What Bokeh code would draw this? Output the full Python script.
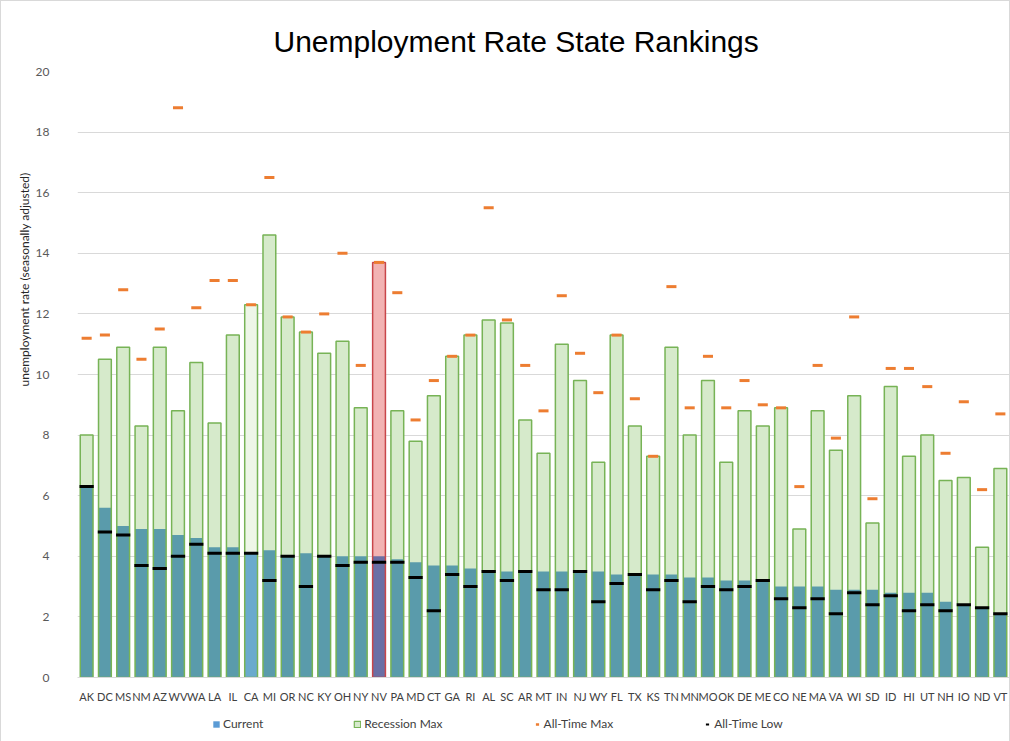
from bokeh.plotting import figure
from bokeh.layouts import column
from bokeh.models import (ColumnDataSource, Legend, LegendItem, FactorRange,
                          Range1d, FixedTicker, Title)
from bokeh.embed import file_html
from bokeh.resources import INLINE

states = ["AK", "DC", "MS", "NM", "AZ", "WV", "WA", "LA", "IL", "CA", "MI", "OR",
          "NC", "KY", "OH", "NY", "NV", "PA", "MD", "CT", "GA", "RI", "AL", "SC",
          "AR", "MT", "IN", "NJ", "WY", "FL", "TX", "KS", "TN", "MN", "MO", "OK",
          "DE", "ME", "CO", "NE", "MA", "VA", "WI", "SD", "ID", "HI", "UT", "NH",
          "IO", "ND", "VT"]
current = [6.3, 5.6, 5.0, 4.9, 4.9, 4.7, 4.6, 4.3, 4.3, 4.1, 4.2, 4.0,
           4.1, 4.0, 4.0, 4.0, 4.0, 3.9, 3.8, 3.7, 3.7, 3.6, 3.5, 3.5,
           3.5, 3.5, 3.5, 3.5, 3.5, 3.4, 3.4, 3.4, 3.4, 3.3, 3.3, 3.2,
           3.2, 3.2, 3.0, 3.0, 3.0, 2.9, 2.9, 2.9, 2.8, 2.8, 2.8, 2.5,
           2.4, 2.3, 2.1]
recession_max = [8.0, 10.5, 10.9, 8.3, 10.9, 8.8, 10.4, 8.4, 11.3, 12.3, 14.6, 11.9,
                 11.4, 10.7, 11.1, 8.9, 13.7, 8.8, 7.8, 9.3, 10.6, 11.3, 11.8, 11.7,
                 8.5, 7.4, 11.0, 9.8, 7.1, 11.3, 8.3, 7.3, 10.9, 8.0, 9.8, 7.1,
                 8.8, 8.3, 8.9, 4.9, 8.8, 7.5, 9.3, 5.1, 9.6, 7.3, 8.0, 6.5,
                 6.6, 4.3, 6.9]
all_time_max = [11.2, 11.3, 12.8, 10.5, 11.5, 18.8, 12.2, 13.1, 13.1, 12.3, 16.5, 11.9,
                11.4, 12.0, 14.0, 10.3, 13.7, 12.7, 8.5, 9.8, 10.6, 11.3, 15.5, 11.8,
                10.3, 8.8, 12.6, 10.7, 9.4, 11.3, 9.2, 7.3, 12.9, 8.9, 10.6, 8.9,
                9.8, 9.0, 8.9, 6.3, 10.3, 7.9, 11.9, 5.9, 10.2, 10.2, 9.6, 7.4,
                9.1, 6.2, 8.7]
all_time_low = [6.3, 4.8, 4.7, 3.7, 3.6, 4.0, 4.4, 4.1, 4.1, 4.1, 3.2, 4.0,
                3.0, 4.0, 3.7, 3.8, 3.8, 3.8, 3.3, 2.2, 3.4, 3.0, 3.5, 3.2,
                3.5, 2.9, 2.9, 3.5, 2.5, 3.1, 3.4, 2.9, 3.2, 2.5, 3.0, 2.9,
                3.0, 3.2, 2.6, 2.3, 2.6, 2.1, 2.8, 2.4, 2.7, 2.2, 2.4, 2.2,
                2.4, 2.3, 2.1]
y_ticks = [0, 2, 4, 6, 8, 10, 12, 14, 16, 18, 20]
legend_labels = ["Current", "Recession Max", "All-Time Max", "All-Time Low"]
highlight = "NV"
lighter = "CA"

TEAL = "#5a9bab"
GREEN_FILL = "#d6eacb"
GREEN_LINE = "#77b356"

cur_fill = ["#6a6fa5" if s == highlight else ("#6aaacd" if s == lighter else TEAL) for s in states]
rec_fill = ["#f2b3b3" if s == highlight else ("#eef6e8" if s == lighter else GREEN_FILL) for s in states]
rec_line = ["#c8464a" if s == highlight else GREEN_LINE for s in states]

src = ColumnDataSource(dict(state=states, cur=current, rec=recession_max,
                            amax=all_time_max, alow=all_time_low,
                            cur_fill=cur_fill, rec_fill=rec_fill, rec_line=rec_line))

p = figure(x_range=FactorRange(*states), y_range=Range1d(0, 20),
           frame_width=932, frame_height=606, output_backend="svg", toolbar_location=None,
           min_border_left=76, min_border_right=0, min_border_top=70,
           min_border_bottom=0)
p.outline_line_color = None
p.background_fill_color = "white"
p.border_fill_color = "white"

p.title.text = "Unemployment Rate State Rankings"
p.title.align = "left"
p.title.text_font = "Liberation Sans"
p.title.text_font_size = "30px"
p.title.text_font_style = "normal"
p.title.text_color = "#000000"
p.title.standoff = 27
p.title.offset = 196

p.vbar(x="state", top="rec", width=0.7, fill_color="rec_fill", line_color=None, source=src)
p.vbar(x="state", top="cur", width=0.7, fill_color="cur_fill", line_color=None, source=src)
p.vbar(x="state", top="rec", width=0.7, fill_color=None, line_color="rec_line",
       line_width=1.5, source=src)
p.rect(x="state", y="amax", width=0.55, height=3, height_units="screen",
       fill_color="#ed7d31", line_color=None, source=src)
p.rect(x="state", y="alow", width=0.78, height=3, height_units="screen",
       fill_color="#000000", line_color=None, source=src)

p.xgrid.grid_line_color = None
p.ygrid.grid_line_color = "#d9d9d9"
p.ygrid.grid_line_width = 1.2

p.yaxis.ticker = FixedTicker(ticks=y_ticks)
p.yaxis.axis_line_color = None
p.yaxis.major_tick_line_color = None
p.yaxis.minor_tick_line_color = None
p.yaxis.major_label_text_font = "Lato"
p.yaxis.major_label_text_font_size = "12px"
p.yaxis.major_label_text_color = "#595959"
p.yaxis.major_label_standoff = 22

ylab = Title(text="unemployment rate (seasonally adjusted)", align="left",
             text_font="Lato", text_font_size="12px", text_font_style="normal",
             text_color="#262626", offset=291, standoff=1)
p.add_layout(ylab, "left")

p.xaxis.axis_line_color = "#d9d9d9"
p.xaxis.major_tick_line_color = None
p.xaxis.minor_tick_line_color = None
p.xaxis.major_label_text_font = "Lato"
p.xaxis.major_label_text_font_size = "11px"
p.xaxis.major_label_text_color = "#404040"
p.xaxis.major_label_standoff = 6

# legend strip below the chart
lg = figure(width=1008, height=36, x_range=Range1d(0, 1), y_range=Range1d(0, 1),
            output_backend="svg", toolbar_location=None, min_border=0)
lg.axis.visible = False
lg.grid.visible = False
lg.outline_line_color = None
lg.border_fill_color = "white"
lg.background_fill_color = "white"

leg_cur = lg.vbar(x=[5], top=[6], bottom=[5], width=0.1,
                  fill_color="#5b9bd5", line_color=None)
leg_rec = lg.vbar(x=[5], top=[6], bottom=[5], width=0.1,
                  fill_color=GREEN_FILL, line_color=GREEN_LINE, line_width=1.2)
leg_max = lg.scatter(x=[5], y=[5], marker="dash", size=8,
                     line_color="#ed7d31", line_width=2.5)
leg_low = lg.scatter(x=[5], y=[5], marker="dash", size=8,
                     line_color="#000000", line_width=2)

legend = Legend(items=[LegendItem(label=legend_labels[0], renderers=[leg_cur]),
                       LegendItem(label=legend_labels[1], renderers=[leg_rec]),
                       LegendItem(label=legend_labels[2], renderers=[leg_max]),
                       LegendItem(label=legend_labels[3], renderers=[leg_low])],
                orientation="horizontal", location=(135, 10),
                border_line_color=None, background_fill_alpha=0,
                spacing=90, glyph_width=8, glyph_height=8, label_standoff=3,
                label_text_font="Lato", label_text_font_size="12px",
                label_text_color="#404040", padding=0, margin=0,
                label_height=14)
lg.add_layout(legend, "center")

layout = column(p, lg, spacing=0, styles={"border": "1px solid #d9d9d9"})

open("out.html", "w").write(file_html(layout, INLINE))
